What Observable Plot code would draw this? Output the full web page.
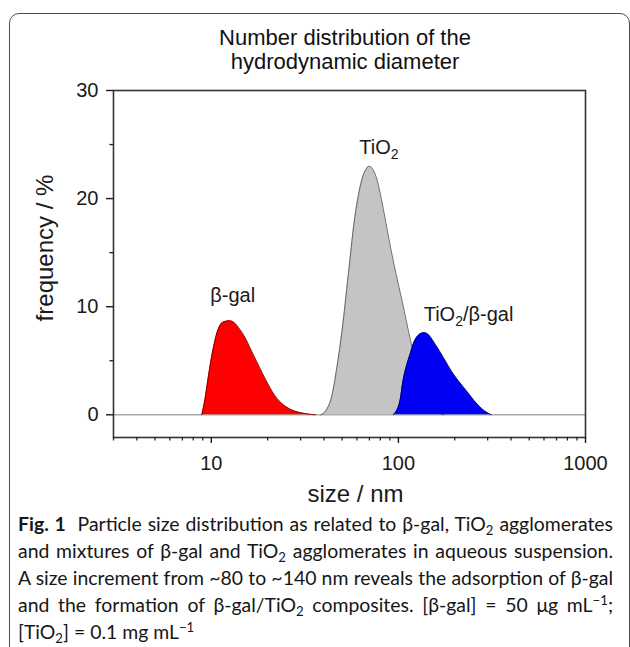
<!DOCTYPE html>
<html>
<head>
<meta charset="utf-8">
<script src="https://cdn.jsdelivr.net/npm/d3@7"></script>
<script src="https://cdn.jsdelivr.net/npm/@observablehq/plot@0.6"></script>
<style>
html, body { margin: 0; padding: 0; background: #fff; }
#page { position: relative; width: 630px; height: 647px; overflow: hidden; font-family: "Liberation Sans", Arial, sans-serif; }
#border { position: absolute; left: 9px; top: 13px; width: 621px; height: 720px; border: 1.5px solid #4d4d4d; border-radius: 10px; box-sizing: border-box; }
#title { position: absolute; left: 95px; width: 500px; top: 26px; text-align: center; font-size: 22px; line-height: 24px; color: #111; }
#chart { position: absolute; left: 0; top: 80px; }
#caption { position: absolute; left: 18px; top: 510px; width: 595px; font-family: Lato, "Open Sans", sans-serif; font-size: 19px; line-height: 27px; color: #161616; }
#caption .l { text-align: justify; text-align-last: justify; }
#caption sub, #caption sup { font-size: 0.68em; line-height: 0; }
#caption sub { vertical-align: -0.28em; }
#caption sup { vertical-align: 0.55em; }
</style>
</head>
<body>
<div id="page">
  <div id="border"></div>
  <div id="title"></div>
  <div id="chart"></div>
  <div id="caption">
    <div class="l"><b>Fig. 1</b>&nbsp; Particle size distribution as related to β-gal, TiO<sub>2</sub> agglomerates</div>
    <div class="l">and mixtures of β-gal and TiO<sub>2</sub> agglomerates in aqueous suspension.</div>
    <div class="l">A size increment from ~80 to ~140 nm reveals the adsorption of β-gal</div>
    <div class="l">and the formation of β-gal/TiO<sub>2</sub> composites. [β-gal] = 50 μg mL<sup>−1</sup>;</div>
    <div>[TiO<sub>2</sub>] = 0.1 mg mL<sup>−1</sup></div>
  </div>
</div>
<script>
// ---- data ----
const titleLines = ["Number distribution of the", "hydrodynamic diameter"];
const xLabel = "size / nm";
const yLabel = "frequency / %";

const betaGalSize = [8.9, 9.2, 9.6, 10.0, 10.5, 11.0, 11.7, 12.5, 13.3, 14.2, 15.2, 16.3, 17.5, 18.8, 20.3, 22, 24, 26.5, 29, 32, 36];
const betaGalFreq = [0, 1.2, 3.3, 5.2, 7.0, 8.1, 8.6, 8.7, 8.5, 7.9, 7.1, 6.0, 4.9, 3.8, 2.7, 1.7, 1.0, 0.5, 0.25, 0.1, 0];

const tio2Size = [38.5, 41, 44, 47, 50, 54, 58, 63, 67, 70, 73, 77, 81, 85, 90, 95, 105, 116, 130, 145, 160, 175];
const tio2Freq = [0, 0.4, 1.7, 4.5, 7.8, 13.0, 17.8, 21.4, 22.7, 23.0, 22.7, 21.7, 20.0, 18.1, 15.8, 13.8, 10.4, 6.9, 3.5, 1.3, 0.3, 0];

const mixSize = [94, 98, 102, 106, 110, 116, 121, 127, 137, 145, 153, 163, 174, 185, 197, 210, 224, 240, 255, 272, 289, 313];
const mixFreq = [0, 0.4, 1.3, 3.2, 4.4, 5.7, 6.7, 7.3, 7.6, 7.4, 6.85, 6.1, 5.3, 4.5, 3.75, 3.1, 2.5, 1.85, 1.27, 0.75, 0.34, 0];

const yTicks = [0, 10, 20, 30];
const yMinorTicks = [5, 15, 25];
const xTicks = [10, 100, 1000];
const xMinorTicks = [3, 4, 5, 6, 7, 8, 9, 20, 30, 40, 50, 60, 70, 80, 90, 200, 300, 400, 500, 600, 700, 800, 900];

const labelText = ["β-gal", "TiO2", "TiO2/β-gal"];
const labelSize = [13.0, 78.7, 237];
const labelFreq = [11.0, 24.75, 9.3];

// ---- build ----
document.getElementById("title").innerHTML = titleLines.join("<br>");

const rows = (name, xs, ys) => xs.map((x, i) => ({series: name, size: x, freq: ys[i]}));
const betaGal = rows("β-gal", betaGalSize, betaGalFreq);
const tio2 = rows("TiO2", tio2Size, tio2Freq);
const mix = rows("TiO2/β-gal", mixSize, mixFreq);
const labels = labelText.map((t, i) => ({t, size: labelSize[i], freq: labelFreq[i]}));

const curve = "monotone-x";
const chart = Plot.plot({
  width: 630,
  height: 440,
  marginLeft: 113,
  marginRight: 45,
  marginTop: 10,
  marginBottom: 83,
  style: {fontFamily: "'Liberation Sans', Arial, sans-serif", fontSize: "20px", color: "#1a1a1a", background: "transparent", overflow: "visible"},
  x: {type: "log", domain: [3, 1000], label: null},
  y: {domain: [-2.1, 30], label: null},
  marks: [
    Plot.ruleY([0], {stroke: "#a9a9a9", strokeWidth: 1.5}),
    Plot.areaY(tio2, {x: "size", y: "freq", fill: "#c4c4c4", curve}),
    Plot.lineY(tio2, {x: "size", y: "freq", stroke: "#5a5a5a", strokeWidth: 0.9, curve}),
    Plot.areaY(mix, {x: "size", y: "freq", fill: "#0000f5", curve}),
    Plot.lineY(mix, {x: "size", y: "freq", stroke: "#00005a", strokeWidth: 0.9, curve}),
    Plot.areaY(betaGal, {x: "size", y: "freq", fill: "#ff0000", curve}),
    Plot.lineY(betaGal, {x: "size", y: "freq", stroke: "#7a0000", strokeWidth: 0.9, curve}),
    Plot.frame({stroke: "#333", strokeWidth: 1.6}),
    Plot.axisY(yTicks, {tickSize: 7, tickPadding: 8, label: null, strokeWidth: 1.4}),
    Plot.axisY(yMinorTicks, {tickSize: 3.5, tickFormat: () => "", label: null, strokeWidth: 1.3}),
    Plot.axisX(xTicks, {tickSize: 6, tickPadding: 12, tickFormat: d => String(d), label: null, strokeWidth: 1.4}),
    Plot.axisX(xMinorTicks, {tickSize: 3.5, tickFormat: () => "", label: null, strokeWidth: 1.2}),
    Plot.text(labels, {x: "size", y: "freq", text: "t", fontSize: 20, textAnchor: "middle", lineAnchor: "middle"}),
    Plot.text([yLabel], {frameAnchor: "left", rotate: -90, dx: -68, dy: -16, fontSize: 24, textAnchor: "middle", lineAnchor: "middle"}),
    Plot.text([xLabel], {frameAnchor: "bottom", dx: 6, dy: 47, fontSize: 24, textAnchor: "middle", lineAnchor: "top"})
  ]
});
document.getElementById("chart").appendChild(chart);

// subscript the "2" in TiO2 labels
d3.select(chart).selectAll("text").each(function () {
  const s = this.textContent;
  if (!s.includes("TiO2") || this.children.length) return;
  const parts = s.split("TiO2");
  const el = d3.select(this);
  el.text(null);
  parts.forEach((p, i) => {
    if (i > 0) {
      el.append("tspan").text("TiO");
      el.append("tspan").attr("font-size", 14).attr("dy", 5).text("2");
      if (p) el.append("tspan").attr("dy", -5).text(p);
    } else if (p) {
      el.append("tspan").text(p);
    }
  });
});

// fit justified caption lines to the caption width
const cap = document.getElementById("caption");
const lines = Array.from(cap.querySelectorAll(".l"));
const widths = lines.map(el => {
  el.style.display = "inline-block";
  el.style.whiteSpace = "nowrap";
  const w = el.getBoundingClientRect().width;
  el.style.display = "";
  el.style.whiteSpace = "";
  return w;
});
const maxW = Math.max(...widths);
const fs = 19 * 592 / maxW;
cap.style.fontSize = fs.toFixed(2) + "px";
</script>
</body>
</html>
